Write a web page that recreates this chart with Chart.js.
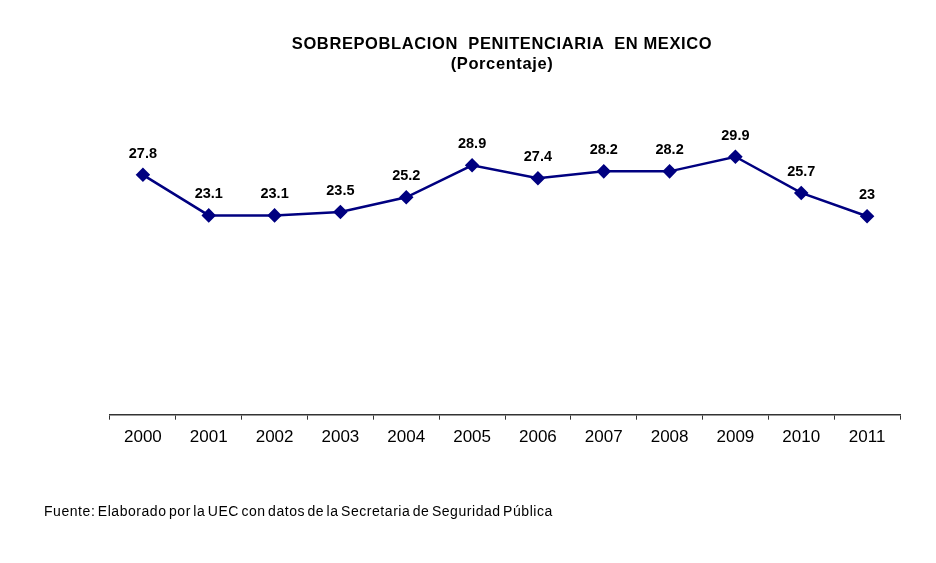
<!DOCTYPE html>
<html>
<head>
<meta charset="utf-8">
<script src="https://cdn.jsdelivr.net/npm/chart.js@4/dist/chart.umd.min.js"></script>
<style>
  html, body { margin: 0; padding: 0; background: #fff; }
  #wrap { position: relative; width: 936px; height: 563px; }
  #c { position: absolute; left: 0; top: 0; }
  #title { position: absolute; left: 252px; width: 500px; top: 33px; text-align: center;
           font: bold 16.5px "Liberation Sans", Arial, sans-serif; line-height: 20px; color: #000; white-space: pre; letter-spacing: 0.6px; }
  #source { position: absolute; left: 44px; top: 503px; font: 14px "Liberation Sans", Arial, sans-serif;
            line-height: 16px; color: #000; letter-spacing: 0.55px; word-spacing: -2px; white-space: nowrap; }
</style>
</head>
<body>
<div id="wrap">
  <canvas id="c" width="936" height="563"></canvas>
  <div id="title">SOBREPOBLACION  PENITENCIARIA  EN MEXICO
(Porcentaje)</div>
  <div id="source">Fuente: Elaborado por la UEC con datos de la Secretaria de Seguridad Pública</div>
</div>
<script>
const years = ["2000","2001","2002","2003","2004","2005","2006","2007","2008","2009","2010","2011"];
const values = [27.8, 23.1, 23.1, 23.5, 25.2, 28.9, 27.4, 28.2, 28.2, 29.9, 25.7, 23];

const dataLabels = {
  id: 'dataLabels',
  afterDatasetsDraw(chart) {
    const ctx = chart.ctx;
    const meta = chart.getDatasetMeta(0);
    ctx.save();
    ctx.font = 'bold 14.5px "Liberation Sans", Arial, sans-serif';
    ctx.fillStyle = '#000';
    ctx.textAlign = 'center';
    ctx.textBaseline = 'middle';
    meta.data.forEach((pt, i) => {
      ctx.fillText(String(values[i]), pt.x, pt.y - 21);
    });
    ctx.restore();
  }
};

new Chart(document.getElementById('c'), {
  type: 'line',
  data: {
    labels: years,
    datasets: [{
      data: values,
      borderColor: '#000080',
      backgroundColor: '#000080',
      borderWidth: 2.5,
      pointStyle: 'rectRot',
      pointRadius: 5.5,
      pointHoverRadius: 5.5,
      pointBackgroundColor: '#000080',
      pointBorderColor: '#000080',
      tension: 0
    }]
  },
  options: {
    responsive: false,
    animation: false,
    events: [],
    layout: { autoPadding: false, padding: { left: 110, right: 36, top: 112.7, bottom: 108.3 } },
    plugins: { legend: { display: false }, tooltip: { enabled: false }, title: { display: false } },
    scales: {
      x: {
        type: 'category',
        offset: true,
        grid: { offset: true, drawOnChartArea: false, drawTicks: true, tickLength: 5, color: '#333', lineWidth: 1 },
        border: { display: true, color: '#333', width: 1.5 },
        ticks: { color: '#000', font: { family: '"Liberation Sans", Arial, sans-serif', size: 17 }, padding: 7, maxRotation: 0, autoSkip: false },
        afterFit(scale) { scale.height = 40; }
      },
      y: {
        display: false,
        min: 0,
        max: 35
      }
    }
  },
  plugins: [dataLabels]
});
</script>
</body>
</html>
